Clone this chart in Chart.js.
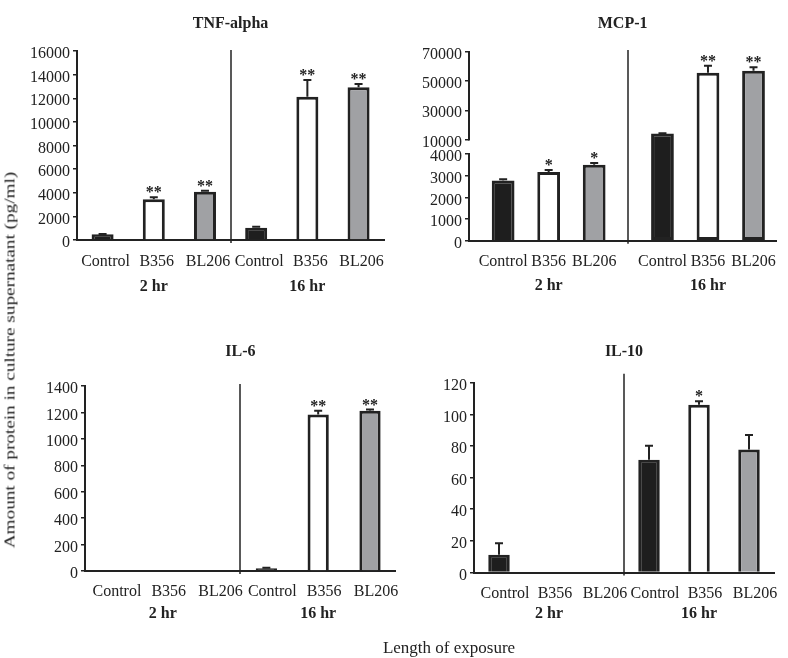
<!DOCTYPE html>
<html>
<head>
<meta charset="utf-8">
<script src="https://cdn.jsdelivr.net/npm/chart.js@4.4.1/dist/chart.umd.min.js"></script>
<style>
  html, body { margin: 0; padding: 0; background: #fff; overflow: hidden; }
  #wrap { position: relative; width: 788px; height: 658px; font-family: 'Liberation Serif', 'Times New Roman', serif; color: #222; }
  canvas { position: absolute; }
  .ytitle { position: absolute; left: 10px; top: 360px; font-size: 15px; white-space: nowrap;
            transform: translate(-50%, -50%) rotate(-90deg) scaleX(1.28); }
  .xtitle { position: absolute; left: 449px; top: 648px; font-size: 17px; white-space: nowrap;
            transform: translate(-50%, -50%); }
</style>
</head>
<body>
<div id="wrap">
  <canvas id="tnf" width="394" height="310" style="left:0;top:0"></canvas>
  <canvas id="mcp" width="394" height="310" style="left:394px;top:0"></canvas>
  <canvas id="il6" width="404" height="348" style="left:0;top:310px"></canvas>
  <canvas id="il10" width="384" height="348" style="left:404px;top:310px"></canvas>
  <div class="ytitle">Amount of protein in culture supernatant (pg/ml)</div>
  <div class="xtitle">Length of exposure</div>
</div>
<script>
// data (upper error bar only)
const categories = ['Control', 'B356', 'BL206', 'Control', 'B356', 'BL206'];
const groups = ['2 hr', '16 hr'];
const titles = ['TNF-alpha', 'MCP-1', 'IL-6', 'IL-10'];

const tnfValues = [480, 3450, 4090, 1040, 12130, 12930];
const tnfErrors = [30, 160, 80, 80, 1420, 280];
const tnfStars = ['', '**', '**', '', '**', '**'];
const tnfTicks = [0, 2000, 4000, 6000, 8000, 10000, 12000, 14000, 16000];

const mcpValues = [2780, 3170, 3500, 14000, 55800, 57200];
const mcpErrors = [50, 90, 90, 300, 4800, 2300];
const mcpStars = ['', '*', '*', '', '**', '**'];
const mcpLowTicks = [0, 1000, 2000, 3000, 4000];
const mcpHighTicks = [10000, 30000, 50000, 70000];

const il6Values = [0, 0, 0, 20, 1185, 1212];
const il6Errors = [0, 0, 0, 5, 28, 10];
const il6Stars = ['', '', '', '', '**', '**'];
const il6Ticks = [0, 200, 400, 600, 800, 1000, 1200, 1400];

const il10Values = [11.2, 0, 0, 71.3, 106.1, 77.8];
const il10Errors = [7.3, 0, 0, 8.9, 2.1, 9.1];
const il10Stars = ['', '', '', '', '*', ''];
const il10Ticks = [0, 20, 40, 60, 80, 100, 120];

const INK = '#222';
const FAMILY = "'Liberation Serif', 'Times New Roman', serif";
const FILLS = ['#1e1e1e', '#ffffff', '#a0a1a4'];

Chart.defaults.font.family = FAMILY;
Chart.defaults.font.size = 16;
Chart.defaults.color = INK;

// error bars, significance stars and the 2 hr / 16 hr divider
function marks(values, errors, stars, pos, axisFor, sepExtend) {
    return {
        id: 'marks',
        afterDatasetsDraw(chart) {
            const { ctx, chartArea } = chart;
            const xs = chart.scales.x;
            ctx.save();
            ctx.strokeStyle = INK;
            ctx.lineWidth = 1.5;
            const sx = Math.round(xs.getPixelForValue((pos(2) + pos(3)) / 2));
            ctx.beginPath();
            ctx.moveTo(sx, chartArea.top - sepExtend);
            ctx.lineTo(sx, chartArea.bottom + 3);
            ctx.stroke();

            ctx.lineWidth = 2;
            ctx.fillStyle = INK;
            ctx.font = 'bold 16px ' + FAMILY;
            ctx.textAlign = 'center';
            ctx.textBaseline = 'alphabetic';
            values.forEach((v, i) => {
                const ys = chart.scales[axisFor(v)];
                const x = xs.getPixelForValue(pos(i));
                const top = ys.getPixelForValue(v + errors[i]);
                if (errors[i] > 0) {
                    ctx.beginPath();
                    ctx.moveTo(x, ys.getPixelForValue(v));
                    ctx.lineTo(x, top);
                    ctx.moveTo(x - 4, top);
                    ctx.lineTo(x + 4, top);
                    ctx.stroke();
                }
                if (stars[i]) ctx.fillText(stars[i], x, top);
            });
            ctx.restore();
        }
    };
}

function valueAxis(ticks, width, extra) {
    return Object.assign({
        type: 'linear',
        position: 'left',
        min: ticks[0],
        max: ticks[ticks.length - 1],
        afterBuildTicks: s => { s.ticks = ticks.map(v => ({ value: v })); },
        afterFit: s => { s.width = width; },
        grid: { drawOnChartArea: false, drawTicks: true, tickLength: 4, color: INK, lineWidth: 1.5 },
        border: { display: true, color: INK, width: 2 },
        ticks: { padding: 3, labelOffset: 3, autoSkip: false, color: INK, callback: v => String(v) }
    }, extra || {});
}

function labelAxis(pad, shift) {
    return {
        type: 'category',
        offset: true,
        z: 1,
        grid: { display: false, drawTicks: false },
        border: { display: true, color: INK, width: 2 },
        ticks: { padding: pad, labelOffset: shift, maxRotation: 0, minRotation: 0, autoSkip: false, color: INK },
        afterFit: s => { s.height = 30; }
    };
}

function groupAxis(pad) {
    return {
        type: 'category',
        labels: groups,
        offset: true,
        position: 'bottom',
        grid: { display: false, drawTicks: false },
        border: { display: false },
        ticks: { padding: pad, maxRotation: 0, autoSkip: false, color: INK, font: { weight: 'bold' } },
        afterFit: s => { s.height = 24; }
    };
}

function baseOptions(lay, scales) {
    return {
        responsive: false,
        animation: false,
        devicePixelRatio: 1,
        events: [],
        layout: { padding: { left: 0, right: lay.right, top: 0, bottom: lay.bottom } },
        plugins: {
            legend: { display: false },
            tooltip: { enabled: false },
            title: {
                display: true,
                text: lay.title,
                fullSize: false,
                color: INK,
                font: { size: 16, weight: 'bold' },
                padding: { top: lay.titleTop, bottom: lay.titleBottom }
            }
        },
        scales: scales
    };
}

function simplePanel(id, values, errors, stars, ticks, lay) {
    return new Chart(document.getElementById(id), {
        type: 'bar',
        data: {
            labels: categories,
            datasets: [{
                data: values,
                backgroundColor: values.map((v, i) => FILLS[i % 3]),
                borderColor: INK,
                borderWidth: 3,
                barPercentage: lay.bar,
                categoryPercentage: 1
            }]
        },
        options: baseOptions(lay, {
            x: labelAxis(lay.pad1, lay.shift),
            x2: groupAxis(lay.pad2),
            y: valueAxis(ticks, lay.yWidth)
        }),
        plugins: [marks(values, errors, stars, i => i, () => 'y', lay.sepExtend)]
    });
}

simplePanel('tnf', tnfValues, tnfErrors, tnfStars, tnfTicks,
    { title: titles[0], yWidth: 77, right: 9, titleTop: 14.4, titleBottom: 17.4, pad1: 12.4, pad2: 7.4, bottom: 16, shift: 3, sepExtend: 1, bar: 0.43 });
simplePanel('il6', il6Values, il6Errors, il6Stars, il6Ticks,
    { title: titles[2], yWidth: 85, right: 6, titleTop: 32.1, titleBottom: 24.7, pad1: 11.1, pad2: 3.4, bottom: 33, shift: 6, sepExtend: 2, bar: 0.41 });
simplePanel('il10', il10Values, il10Errors, il10Stars, il10Ticks,
    { title: titles[3], yWidth: 70, right: 14, titleTop: 32.1, titleBottom: 21.4, pad1: 11.2, pad2: 1.9, bottom: 31.5, shift: 6, sepExtend: 9, bar: 0.43 });

// MCP-1: broken value axis (two stacked scales), 16 hr group sits half a slot further right
const lowerMax = mcpLowTicks[mcpLowTicks.length - 1];
const mcpPos = i => i + Math.floor(i / 3) * 0.5;
const mcpLay = { title: titles[1], yWidth: 75, right: 11, titleTop: 14.4, titleBottom: 18.4, pad1: 11.4, pad2: 5.7, bottom: 15.3 };

function slotAxis(labels, at, pad, extra) {
    return Object.assign({
        type: 'linear',
        position: 'bottom',
        offset: false,
        min: -0.75,
        max: 6,
        afterBuildTicks: s => { s.ticks = labels.map((l, k) => ({ value: at(k) })); },
        grid: { display: false, drawTicks: false },
        border: { display: false },
        ticks: { padding: pad, maxRotation: 0, minRotation: 0, autoSkip: false, color: INK, callback: (v, k) => labels[k] }
    }, extra);
}

const mcpBar = {
    backgroundColor: mcpValues.map((v, i) => FILLS[i % 3]),
    borderColor: INK,
    borderWidth: 3,
    barPercentage: 0.5,
    categoryPercentage: 1,
    grouped: false
};

new Chart(document.getElementById('mcp'), {
    type: 'bar',
    data: {
        datasets: [
            Object.assign({
                yAxisID: 'y',
                data: mcpValues.map((v, i) => ({ x: mcpPos(i), y: Math.min(v, lowerMax) })),
                borderSkipped: ctx => mcpValues[ctx.dataIndex] > lowerMax ? 'top' : 'start'
            }, mcpBar),
            Object.assign({
                yAxisID: 'y2',
                data: mcpValues.map((v, i) => ({ x: mcpPos(i), y: v > lowerMax ? v : null })),
                borderSkipped: 'start'
            }, mcpBar)
        ]
    },
    options: baseOptions(mcpLay, {
        x: slotAxis(categories, mcpPos, mcpLay.pad1, {
            z: 1,
            border: { display: true, color: INK, width: 2 },
            afterFit: s => { s.height = 30; }
        }),
        x2: slotAxis(groups, k => mcpPos(3 * k + 1), mcpLay.pad2, {
            ticks: { padding: mcpLay.pad2, maxRotation: 0, autoSkip: false, color: INK, font: { weight: 'bold' }, callback: (v, k) => groups[k] },
            afterFit: s => { s.height = 24; }
        }),
        y: valueAxis(mcpLowTicks, mcpLay.yWidth, { stack: 'mcp', stackWeight: 86.7, weight: 0 }),
        y2: valueAxis(mcpHighTicks, mcpLay.yWidth, { stack: 'mcp', stackWeight: 102, weight: 1, min: 0, border: { display: false } })
    }),
    plugins: [
        marks(mcpValues, mcpErrors, mcpStars, mcpPos, v => v > lowerMax ? 'y2' : 'y', 2),
        {
            id: 'upperAxisLine',
            afterDatasetsDraw(chart) {
                const up = chart.scales.y2;
                const x = Math.round(up.right);
                const { ctx } = chart;
                ctx.save();
                ctx.strokeStyle = INK;
                ctx.lineWidth = 2;
                ctx.beginPath();
                ctx.moveTo(x, up.getPixelForValue(mcpHighTicks[mcpHighTicks.length - 1]) - 1);
                ctx.lineTo(x, up.getPixelForValue(mcpHighTicks[0]) + 1);
                ctx.stroke();
                ctx.restore();
            }
        }
    ]
});
</script>
</body>
</html>
